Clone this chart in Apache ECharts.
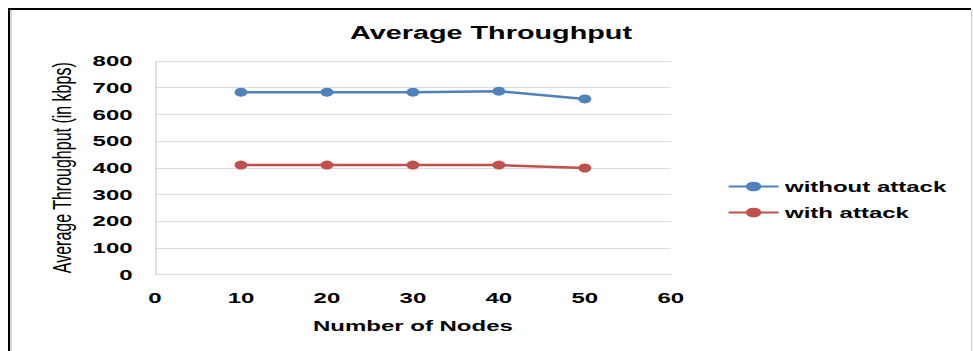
<!DOCTYPE html>
<html>
<head>
<meta charset="utf-8">
<style>
  html, body { margin: 0; padding: 0; background: #fff; overflow: hidden; }
  #wrap { width: 973px; height: 351px; overflow: hidden; }
  /* the chart is laid out narrow and widened horizontally, giving the wide lettering */
  #chart { width: 608.125px; height: 351px; transform: scaleX(1.6); transform-origin: 0 0; }
</style>
<script src="https://cdn.jsdelivr.net/npm/echarts@6/dist/echarts.min.js"></script>
</head>
<body>
<div id="wrap"><div id="chart"></div></div>
<script>
// Number of nodes on the x axis
const nodes = [10, 20, 30, 40, 50];
// Average throughput in kbps
const withoutAttack = [683, 683, 683, 687, 658];
const withAttack = [410, 410, 410, 410, 399];
const seriesNames = ['without attack', 'with attack'];

const SX = 1.6;            // horizontal widening applied by CSS
const W = 973 / SX;        // layout width before widening
const px = x => x / SX;    // page x -> layout x

const chart = echarts.init(document.getElementById('chart'), null, { renderer: 'svg' });

const boldFont = { fontFamily: 'Liberation Sans, Arial, sans-serif', fontWeight: 'bold', color: '#000' };

chart.setOption({
  animation: false,
  backgroundColor: '#fff',
  title: {
    text: 'Average Throughput',
    left: px(483), top: 19, textAlign: 'center',
    textStyle: Object.assign({ fontSize: 18 }, boldFont)
  },
  legend: {
    orient: 'vertical',
    left: px(719), top: 174,
    itemWidth: px(50), itemHeight: 12, itemGap: 11,
    textStyle: Object.assign({ fontSize: 15, padding: [0, 0, 0, -1] }, boldFont),
    data: seriesNames
  },
  grid: { left: px(155), right: W - px(671), top: 61, bottom: 351 - 274.5, containLabel: false },
  xAxis: {
    type: 'value', min: 0, max: 60, interval: 10,
    name: 'Number of Nodes', nameLocation: 'middle', nameGap: 44,
    nameTextStyle: Object.assign({ fontSize: 15 }, boldFont),
    axisLine: { show: true, lineStyle: { color: '#d9d9d9', width: 1 } },
    axisTick: { show: false },
    splitLine: { show: false },
    axisLabel: Object.assign({ margin: 16, fontSize: 15 }, boldFont)
  },
  yAxis: {
    type: 'value', min: 0, max: 800, interval: 100,
    name: 'Average Throughput (in kbps)', nameLocation: 'middle', nameGap: 50, nameRotate: 90,
    nameTextStyle: { fontFamily: 'Liberation Sans, Arial, sans-serif', fontSize: 16, color: '#000' },
    axisLine: { show: true, lineStyle: { color: '#d9d9d9', width: 1 } },
    axisTick: { show: false },
    splitLine: { show: true, lineStyle: { color: '#dcdcdc', width: 1 } },
    axisLabel: Object.assign({ margin: 14, fontSize: 15 }, boldFont)
  },
  series: [
    {
      name: seriesNames[0], type: 'line',
      data: nodes.map((n, i) => [n, withoutAttack[i]]),
      symbol: 'circle', symbolSize: [8, 9],
      lineStyle: { color: '#4f81bd', width: 2.5 },
      itemStyle: { color: '#4f81bd' }
    },
    {
      name: seriesNames[1], type: 'line',
      data: nodes.map((n, i) => [n, withAttack[i]]),
      symbol: 'circle', symbolSize: [8, 9],
      lineStyle: { color: '#c0504d', width: 2.5 },
      itemStyle: { color: '#c0504d' }
    }
  ],
  graphic: [
    // outer frame: black top and left edges, light inner and right edges
    { type: 'rect', shape: { x: px(8), y: 8, width: px(963), height: 2 }, style: { fill: '#000' }, silent: true },
    { type: 'rect', shape: { x: px(8), y: 8, width: px(2), height: 343 }, style: { fill: '#000' }, silent: true },
    { type: 'rect', shape: { x: px(10), y: 10, width: px(2), height: 341 }, style: { fill: '#d8d8d8' }, silent: true },
    { type: 'rect', shape: { x: px(971), y: 10, width: px(1.5), height: 341 }, style: { fill: '#d0d0d0' }, silent: true }
  ]
});
</script>
</body>
</html>
